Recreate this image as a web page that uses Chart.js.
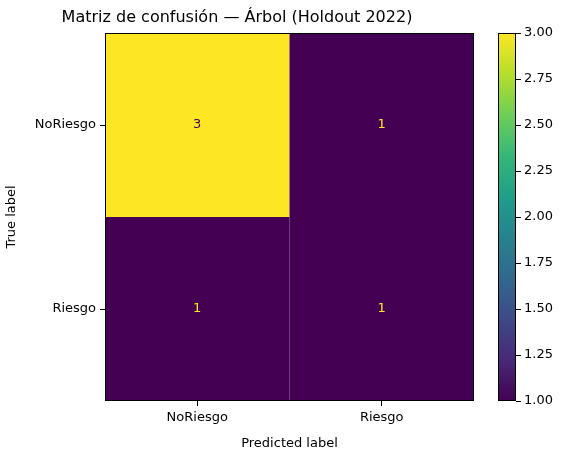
<!DOCTYPE html>
<html><head><meta charset="utf-8">
<script src="https://cdn.jsdelivr.net/npm/chart.js@4"></script>
<style>body{margin:0;background:#fff}canvas{position:absolute;top:0}</style>
</head><body>
<canvas id="c" width="568" height="455" style="left:0"></canvas>
<canvas id="cb" width="70" height="455" style="left:498px"></canvas>
<script>
const classLabels = ["NoRiesgo", "Riesgo"];
const matrix = [[3, 1], [1, 1]];
const cbTicks = [1.00, 1.25, 1.50, 1.75, 2.00, 2.25, 2.50, 2.75, 3.00];
const vmin = 1, vmax = 3;
const viridis = ["#440154","#482878","#3e4989","#31688e","#26828e","#1f9e89","#35b779","#6ece58","#b5de2b","#fde725"];
function hex(h){return [1,3,5].map(i=>parseInt(h.substr(i,2),16));}
function cmap(t){t=Math.max(0,Math.min(1,t));const n=viridis.length-1,i=Math.min(n-1,Math.floor(t*n)),f=t*n-i;const a=hex(viridis[i]),b=hex(viridis[i+1]);return `rgb(${a.map((v,k)=>Math.round(v+(b[k]-v)*f)).join(',')})`;}
const F = "DejaVu Sans";
Chart.defaults.font.family = F;
Chart.defaults.color = "#000";
const pts=[];matrix.forEach((r,i)=>r.forEach((v,j)=>pts.push({x:j,y:i,v})));
const cellPlugin={id:'cells',
 beforeDatasetsDraw(ch){const c=ch.ctx,xs=ch.scales.x,ys=ch.scales.y;
  pts.forEach(p=>{const x0=xs.getPixelForValue(p.x-0.5),x1=xs.getPixelForValue(p.x+0.5),y0=ys.getPixelForValue(p.y-0.5),y1=ys.getPixelForValue(p.y+0.5);
   c.fillStyle=cmap((p.v-vmin)/(vmax-vmin));c.fillRect(x0,Math.min(y0,y1),x1-x0,Math.abs(y1-y0));});},
 afterDatasetsDraw(ch){const c=ch.ctx,xs=ch.scales.x,ys=ch.scales.y;c.font="13px "+F;c.textAlign='center';c.textBaseline='middle';
  pts.forEach(p=>{c.fillStyle=(p.v-vmin)/(vmax-vmin)>0.5?"#440154":"#fde725";c.fillText(String(p.v),xs.getPixelForValue(p.x),ys.getPixelForValue(p.y));});
  const a=ch.chartArea;c.strokeStyle="#000";c.lineWidth=1;c.strokeRect(a.left+0.5,a.top+0.5,a.right-a.left-1,a.bottom-a.top-1);}
};
const tk=[{value:0},{value:1}];
new Chart(document.getElementById('c'),{type:'scatter',
 data:{datasets:[{data:pts,pointRadius:0}]},
 options:{responsive:false,animation:false,layout:{padding:{right:94,left:0,bottom:0}},
  plugins:{legend:{display:false},tooltip:{enabled:false},
   title:{display:true,text:"Matriz de confusión — Árbol (Holdout 2022)",font:{size:16,weight:'normal'},color:'#000',padding:{top:8,bottom:5.8}}},
  scales:{
   x:{type:'linear',min:-0.5,max:1.5,afterBuildTicks:s=>{s.ticks=tk.map(t=>({...t}));},
    afterFit:s=>{s.height=54;},
    ticks:{callback:v=>classLabels[v],font:{size:13},color:'#000',padding:4,maxRotation:0},
    grid:{drawOnChartArea:false,tickLength:5,color:'#000'},border:{display:false},
    title:{display:true,text:'Predicted label',font:{size:13},color:'#000',padding:{top:2}}},
   y:{type:'linear',reverse:true,min:-0.5,max:1.5,afterBuildTicks:s=>{s.ticks=tk.map(t=>({...t}));},
    afterFit:s=>{s.width=105;},
    ticks:{callback:v=>classLabels[v],font:{size:13},color:'#000',padding:4},
    grid:{drawOnChartArea:false,tickLength:5,color:'#000'},border:{display:false},
    title:{display:true,text:'True label',font:{size:13},color:'#000',padding:{bottom:2}}}
  }},plugins:[cellPlugin]});
const cbPlugin={id:'cbar',beforeDatasetsDraw(ch){const c=ch.ctx,a=ch.chartArea,ys=ch.scales.y;
  const g=c.createLinearGradient(0,ys.getPixelForValue(vmin),0,ys.getPixelForValue(vmax));
  viridis.forEach((col,i)=>g.addColorStop(i/(viridis.length-1),col));
  c.fillStyle=g;c.fillRect(a.left,a.top,a.right-a.left,a.bottom-a.top);
  c.strokeStyle='#000';c.lineWidth=1;c.strokeRect(a.left+0.5,a.top+0.5,a.right-a.left-1,a.bottom-a.top-1);}};
new Chart(document.getElementById('cb'),{type:'scatter',data:{datasets:[{data:[],pointRadius:0}]},
 options:{responsive:false,animation:false,layout:{padding:{top:33,bottom:54,left:0,right:0}},
  plugins:{legend:{display:false},tooltip:{enabled:false}},
  scales:{x:{display:false},
   y:{type:'linear',position:'right',min:vmin,max:vmax,afterBuildTicks:s=>{s.ticks=cbTicks.map(v=>({value:v}));},
    afterFit:s=>{s.width=52;},
    ticks:{callback:v=>v.toFixed(2),font:{size:13},color:'#000',padding:3},
    grid:{drawOnChartArea:false,tickLength:5,color:'#000'},border:{display:false}}}},plugins:[cbPlugin]});
</script></body></html>
